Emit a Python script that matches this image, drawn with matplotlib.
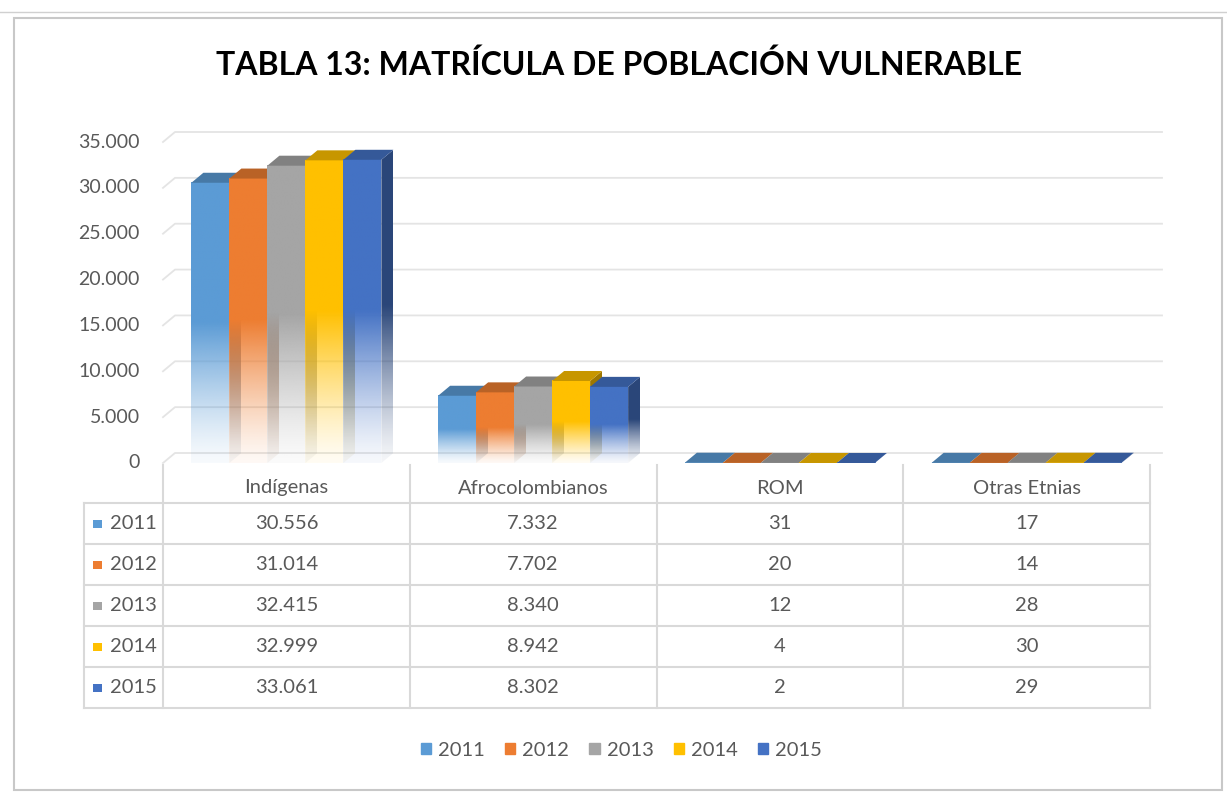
import numpy as np
import matplotlib.pyplot as plt
from matplotlib.patches import Polygon, Rectangle, Patch
from matplotlib.colors import to_rgb

plt.rcParams['font.family'] = ['Lato', 'DejaVu Sans']

categories = ['Indígenas', 'Afrocolombianos', 'ROM', 'Otras Etnias']
years = ['2011', '2012', '2013', '2014', '2015']
v2011 = [30556, 7332, 31, 17]
v2012 = [31014, 7702, 20, 14]
v2013 = [32415, 8340, 12, 28]
v2014 = [32999, 8942, 4, 30]
v2015 = [33061, 8302, 2, 29]
series = [v2011, v2012, v2013, v2014, v2015]
yticks = [0, 5000, 10000, 15000, 20000, 25000, 30000, 35000]
colors = ['#5B9BD5', '#ED7D31', '#A5A5A5', '#FFC000', '#4472C4']
title = 'TABLA 13: MATRÍCULA DE POBLACIÓN VULNERABLE'

TXT = '#595959'
GRID = '#e4e4e4'
W, H = 1227, 793


def fmt(v):
    return f'{v:,}'.replace(',', '.')


def shade(c, f):
    r, g, b = to_rgb(c)
    return (r * f, g * f, b * f)


def fade_img(c, solid_from=0.5, low=0.05):
    # vertical gradient: solid on top, fading out towards the floor
    t = np.linspace(0, 1, 200)[:, None]
    a = low + (1 - low) * np.clip(t / solid_from, 0, 1) ** 1.3
    img = np.zeros((200, 2, 4))
    img[..., :3] = to_rgb(c)
    img[..., 3] = a
    return img


fig = plt.figure(figsize=(W / 100, H / 100), dpi=100)

# background layer in pixel coordinates (frame, table, etc.)
bg = fig.add_axes([0, 0, 1, 1], zorder=0)
bg.set_xlim(0, W)
bg.set_ylim(H, 0)
bg.axis('off')

# outer frame
bg.add_patch(Rectangle((14, 18), 1208, 772, fill=False, ec='#c8c8c8', lw=1.5))
bg.plot([0, W], [12, 12], color='#d0d0d0', lw=1)

# plot area
px0, px1, py0, py1 = 163, 1150, 463, 142
ax = fig.add_axes([px0 / W, 1 - py0 / H, (px1 - px0) / W, (py0 - py1) / H], zorder=2)
ax.set_xlim(-0.5, len(categories) - 0.5)
ax.set_ylim(0, 35000)
ax.axis('off')
ax.patch.set_alpha(0)

ux = len(categories) / (px1 - px0)   # data units per pixel (x)
uy = 35000 / (py0 - py1)             # data units per pixel (y)
dx, dy = 12 * ux, 10 * uy
bw = 38 * ux

# back wall gridlines + labels
for t in yticks:
    ax.plot([-0.5, -0.5 + dx, len(categories) - 0.5 + dx], [t, t + dy, t + dy],
            color=GRID, lw=1.3, clip_on=False, zorder=0)
    ax.text(-0.5 - 23 * ux, t, fmt(t), ha='right', va='center', fontsize=14, color=TXT)

# 3D-ish bars
for j, vals in enumerate(series):
    c = colors[j]
    for i, v in enumerate(vals):
        xl = i + (j - 2.5) * bw
        xr = xl + bw
        z = 2 + j * 3
        ax.imshow(fade_img(c), extent=[xl, xr, 0, v], origin='lower', aspect='auto',
                  interpolation='bilinear', zorder=z)
        side = Polygon([(xr, 0), (xr + dx, dy), (xr + dx, v + dy), (xr, v)], closed=True,
                       fc='none', ec='none', transform=ax.transData)
        im = ax.imshow(fade_img(shade(c, 0.62)), extent=[xr, xr + dx, 0, v + dy], origin='lower',
                       aspect='auto', interpolation='bilinear', zorder=z + 1)
        im.set_clip_path(side)
        ax.add_patch(Polygon([(xl, v), (xr, v), (xr + dx, v + dy), (xl + dx, v + dy)],
                             closed=True, fc=shade(c, 0.78), ec='none', zorder=z + 2))

ax.set_xlim(-0.5, len(categories) - 0.5)
ax.set_ylim(0, 35000)

# title
fig.text(0.5 + 5 / W, 1 - 65 / H, title, ha='center', va='center', fontsize=23,
         fontweight='bold', color='black')

# data table
colw = (px1 - px0) / len(categories)
tl = 84
row_h = 41
top = 503
bottom = top + row_h * len(series)
lc = '#d9d9d9'
for k in range(len(series) + 1):
    bg.plot([tl, px1], [top + k * row_h, top + k * row_h], color=lc, lw=1.5)
bg.plot([tl, tl], [top, bottom], color=lc, lw=1.5)
for k in range(len(categories) + 1):
    bg.plot([px0 + k * colw] * 2, [465, bottom], color=lc, lw=1.5)
for i, cat in enumerate(categories):
    bg.text(px0 + (i + 0.5) * colw, 488, cat, ha='center', va='center', fontsize=14.5, color=TXT)
for j, vals in enumerate(series):
    yc = top + (j + 0.5) * row_h
    bg.add_patch(Rectangle((93, yc - 4), 9, 8, color=colors[j], lw=0))
    bg.text(110, yc, years[j], ha='left', va='center', fontsize=14.5, color=TXT)
    for i, v in enumerate(vals):
        bg.text(px0 + (i + 0.5) * colw, yc, fmt(v), ha='center', va='center', fontsize=14.5, color=TXT)

# legend
handles = [Patch(color=c, label=y) for c, y in zip(colors, years)]
fig.legend(handles=handles, loc='center', bbox_to_anchor=(0.5 + 8 / W, 1 - 750 / H), ncol=5,
           frameon=False, fontsize=14.5, handlelength=0.5, handleheight=0.5,
           handletextpad=0.35, columnspacing=1.0, labelcolor=TXT)

fig.savefig('out.png', dpi=100)
